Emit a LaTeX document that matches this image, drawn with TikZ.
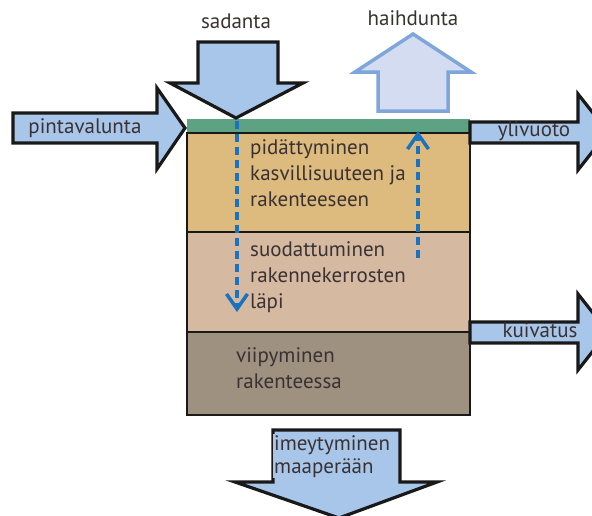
\documentclass[tikz,border=0pt]{standalone}
\usepackage{fontspec}
\setmainfont{PT Sans}
\usetikzlibrary{arrows.meta}
\definecolor{arrblue}{HTML}{A8C6EA}
\definecolor{evapfill}{HTML}{D4DCF2}
\definecolor{evapline}{HTML}{7EA6DA}
\definecolor{topgreen}{HTML}{5DA283}
\definecolor{tanlayer}{HTML}{DDBA7E}
\definecolor{pinklayer}{HTML}{D6B9A1}
\definecolor{brownlayer}{HTML}{9E9180}
\definecolor{flowblue}{HTML}{1B72BE}
\definecolor{txt}{HTML}{3A3232}
\tikzset{
  bigarrow/.style={draw=black!90, line width=3.2pt, fill=arrblue, line join=miter},
  layerbox/.style={draw=black!90, line width=2.8pt},
  lbl/.style={text=txt, font=\fontsize{21}{26}\selectfont, inner sep=1pt},
  blocktext/.style={lbl, align=left, anchor=north west},
  flow/.style={draw=flowblue, line width=3.5pt, dash pattern=on 8pt off 5pt, -{Straight Barb[length=15pt, width=21pt, line width=3.5pt]}}
}
\begin{document}
\begin{tikzpicture}[x=1pt,y=-1pt]
\useasboundingbox (0,0) rectangle (592,515);
\begin{scope}
\clip (0,0) rectangle (592,515);
% layers
\fill[topgreen] (187,119) rectangle (470,133);
\draw[layerbox, fill=tanlayer] (187,133) rectangle (470,232);
\draw[layerbox, fill=pinklayer] (187,232) rectangle (470,332);
\draw[layerbox, fill=brownlayer] (187,332) rectangle (470,415);
% sadanta
\draw[bigarrow] (198,42) -- (278,42) -- (278,83) -- (303,83) -- (236,118) -- (170,83) -- (198,83) -- cycle;
% haihdunta
\draw[draw=evapline, line width=3.5pt, fill=evapfill, line join=miter] (378,111) -- (448,111) -- (448,72) -- (471,72) -- (413,34) -- (355,72) -- (378,72) -- cycle;
% pintavalunta
\draw[bigarrow] (13,113) -- (157,113) -- (157,88) -- (185,128) -- (157,169) -- (157,143) -- (13,143) -- cycle;
% ylivuoto
\draw[bigarrow] (470,122) -- (578,122) -- (578,94) -- (608,132) -- (578,170) -- (578,143) -- (470,143) -- cycle;
% kuivatus
\draw[bigarrow] (470,322) -- (578,322) -- (578,294) -- (608,332) -- (578,370) -- (578,343) -- (470,343) -- cycle;
% imeytyminen
\draw[bigarrow] (273,430) -- (400,430) -- (400,482) -- (437,482) -- (339,518) -- (235,482) -- (273,482) -- cycle;
\end{scope}
% labels
\node[lbl] (sadanta) at (236,21) {sadanta};
\node[lbl] (haihdunta) at (413,18) {haihdunta};
\node[lbl] (pintavalunta) at (85,128) {pintavalunta};
\node[lbl] (ylivuoto) at (534,131) {ylivuoto};
\node[lbl] (kuivatus) at (540,330) {kuivatus};
\node[blocktext, fill=arrblue, font=\fontsize{21}{23}\selectfont] (imeyt) at (273,434) {imeytyminen\\maaperään};
\node[blocktext] (pidat) at (249,138) {pidättyminen\\kasvillisuuteen ja\\rakenteeseen};
\node[blocktext] (suod) at (249,240) {suodattuminen\\rakennekerrosten\\läpi};
\node[blocktext] (viip) at (235,346) {viipyminen\\rakenteessa};
% flows
\coordinate (downstart) at (237,121);
\coordinate (downend) at (237,312);
\coordinate (upstart) at (418,258);
\coordinate (upend) at (418,131);
\draw[flow] (downstart) -- (downend);
\draw[flow] (upstart) -- (upend);
\end{tikzpicture}
\end{document}
